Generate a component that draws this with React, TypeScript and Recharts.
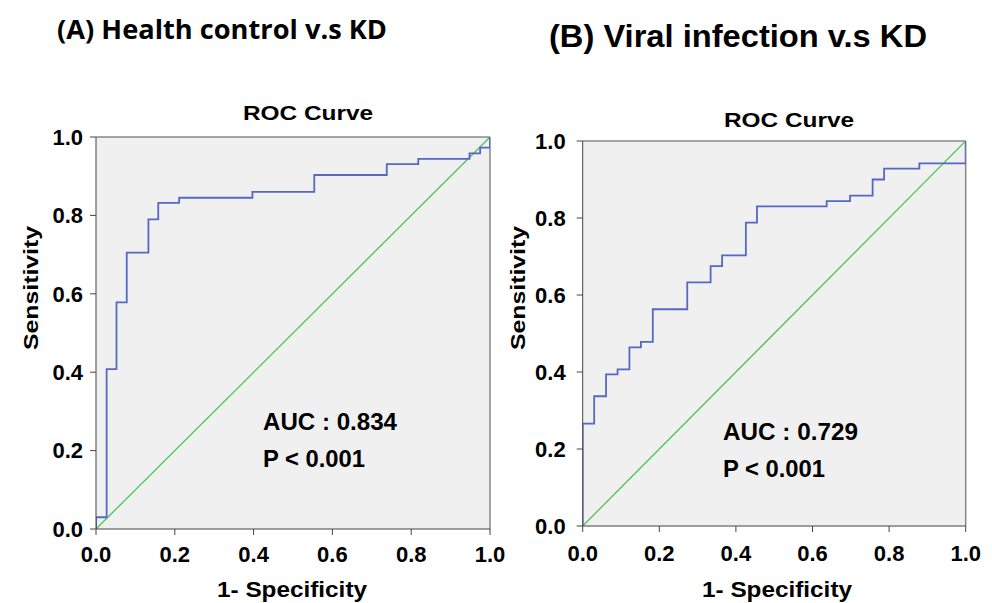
import React from "react";
import { LineChart, Line, XAxis, YAxis, CartesianGrid, ReferenceLine } from "recharts";

// ---- Data ----
const ticks = [0, 0.2, 0.4, 0.6, 0.8, 1.0];

// Panel A: Health control v.s KD — step positions (1-specificity, sensitivity)
const fprA = [0, 0, 0.027, 0.052, 0.078, 0.133, 0.158, 0.211, 0.397, 0.554, 0.738, 0.818, 0.948, 0.975, 1.0];
const tprA = [0, 0.03, 0.408, 0.578, 0.705, 0.79, 0.832, 0.845, 0.86, 0.903, 0.931, 0.944, 0.958, 0.973, 1.0];

// Panel B: Viral infection v.s KD
const fprB = [0, 0, 0.03, 0.061, 0.091, 0.122, 0.152, 0.183, 0.273, 0.334, 0.364, 0.426, 0.455, 0.637, 0.698, 0.757, 0.787, 0.879, 1.0];
const tprB = [0, 0.266, 0.337, 0.394, 0.407, 0.464, 0.478, 0.563, 0.633, 0.675, 0.703, 0.788, 0.83, 0.844, 0.858, 0.9, 0.928, 0.942, 1.0];

// Reference diagonal
const diagX = [0, 1];
const diagY = [0, 1];

const aucA = "AUC : 0.834";
const aucB = "AUC : 0.729";
const pText = "P < 0.001";

const toRows = (xs: number[], ys: number[]) => xs.map((x, i) => ({ x, y: ys[i] }));
const rocA = toRows(fprA, tprA);
const rocB = toRows(fprB, tprB);
const diag = toRows(diagX, diagY);

const BLUE = "#5468c4";
const GREEN = "#4fc25a";
const AX = "#444";
const FONT = "'Liberation Sans', Arial, sans-serif";

const tickStyle = { fill: "#000", fontSize: 22, fontWeight: "bold", fontFamily: FONT } as any;

function Panel(props: {
  data: { x: number; y: number }[];
  width: number;
  margin: { top: number; right: number; bottom: number; left: number };
  yTickMargin: number;
  xTickMargin: number;
}) {
  const { data, width, margin, yTickMargin, xTickMargin } = props;
  return (
    <LineChart width={width} height={603} margin={margin}>
      <CartesianGrid fill="#f0f0f0" horizontal={false} vertical={false} />
      <XAxis
        type="number"
        dataKey="x"
        domain={[0, 1]}
        ticks={ticks}
        allowDataOverflow
        height={40}
        tickFormatter={(v: number) => v.toFixed(1)}
        tick={tickStyle}
        tickSize={6}
        tickMargin={xTickMargin}
        axisLine={{ stroke: AX }}
        tickLine={{ stroke: AX }}
      />
      <YAxis
        type="number"
        domain={[0, 1]}
        ticks={ticks}
        allowDataOverflow
        width={60}
        tickFormatter={(v: number) => v.toFixed(1)}
        tick={tickStyle}
        tickSize={6}
        tickMargin={yTickMargin}
        axisLine={{ stroke: AX }}
        tickLine={{ stroke: AX }}
      />
      <ReferenceLine y={1} stroke="#888" strokeWidth={1.5} />
      <ReferenceLine x={1} stroke="#888" strokeWidth={1.5} />
      <Line data={diag} dataKey="y" type="linear" stroke={GREEN} strokeWidth={1.3} dot={false} isAnimationActive={false} />
      <Line data={data} dataKey="y" type="stepAfter" stroke={BLUE} strokeWidth={1.8} dot={false} isAnimationActive={false} />
    </LineChart>
  );
}

export default function App() {
  return (
    <div style={{ position: "absolute", left: 0, top: 0, width: 992, height: 603, background: "#fff", overflow: "hidden" }}>
      <div style={{ position: "absolute", left: 0, top: 0 }}>
        <Panel
          data={rocA}
          width={520}
          margin={{ top: 137, right: 30, bottom: 34, left: 36 }}
          yTickMargin={7}
          xTickMargin={11}
        />
      </div>
      <div style={{ position: "absolute", left: 500, top: 0 }}>
        <Panel
          data={rocB}
          width={492}
          margin={{ top: 141, right: 26.3, bottom: 37, left: 22.7 }}
          yTickMargin={11}
          xTickMargin={13}
        />
      </div>
      <svg width={992} height={603} style={{ position: "absolute", left: 0, top: 0, pointerEvents: "none" }}>
        {/* Titles */}
        <text x={57} y={39} fontFamily="'Open Sans', Lato, sans-serif" fontWeight="bold" fontSize={27} textLength={330} lengthAdjust="spacingAndGlyphs" fill="#000">
          (A) Health control v.s KD
        </text>
        <text x={549} y={47} fontFamily={FONT} fontWeight="bold" fontSize={32} textLength={378} lengthAdjust="spacingAndGlyphs" fill="#000">
          (B) Viral infection v.s KD
        </text>
        <text x={243} y={120} fontFamily={FONT} fontWeight="bold" fontSize={20} textLength={130} lengthAdjust="spacingAndGlyphs" fill="#000">
          ROC Curve
        </text>
        <text x={724} y={127} fontFamily={FONT} fontWeight="bold" fontSize={20} textLength={130} lengthAdjust="spacingAndGlyphs" fill="#000">
          ROC Curve
        </text>
        {/* Axis titles */}
        <text x={292} y={597} textAnchor="middle" fontFamily={FONT} fontWeight="bold" fontSize={22} textLength={150} lengthAdjust="spacingAndGlyphs" fill="#000">
          1- Specificity
        </text>
        <text x={777} y={597} textAnchor="middle" fontFamily={FONT} fontWeight="bold" fontSize={22} textLength={150} lengthAdjust="spacingAndGlyphs" fill="#000">
          1- Specificity
        </text>
        <text x={0} y={0} transform="translate(38,288) rotate(-90)" textAnchor="middle" fontFamily={FONT} fontWeight="bold" fontSize={21} textLength={124} lengthAdjust="spacingAndGlyphs" fill="#000">
          Sensitivity
        </text>
        <text x={0} y={0} transform="translate(525,288) rotate(-90)" textAnchor="middle" fontFamily={FONT} fontWeight="bold" fontSize={21} textLength={124} lengthAdjust="spacingAndGlyphs" fill="#000">
          Sensitivity
        </text>
        {/* AUC annotations */}
        <text x={263} y={430} fontFamily={FONT} fontWeight="bold" fontSize={23.5} textLength={134} lengthAdjust="spacingAndGlyphs" fill="#000">
          {aucA}
        </text>
        <text x={263} y={467} fontFamily={FONT} fontWeight="bold" fontSize={23.5} textLength={102} lengthAdjust="spacingAndGlyphs" fill="#000">
          {pText}
        </text>
        <text x={723} y={440} fontFamily={FONT} fontWeight="bold" fontSize={23.5} textLength={135} lengthAdjust="spacingAndGlyphs" fill="#000">
          {aucB}
        </text>
        <text x={723} y={477} fontFamily={FONT} fontWeight="bold" fontSize={23.5} textLength={102} lengthAdjust="spacingAndGlyphs" fill="#000">
          {pText}
        </text>
      </svg>
    </div>
  );
}
